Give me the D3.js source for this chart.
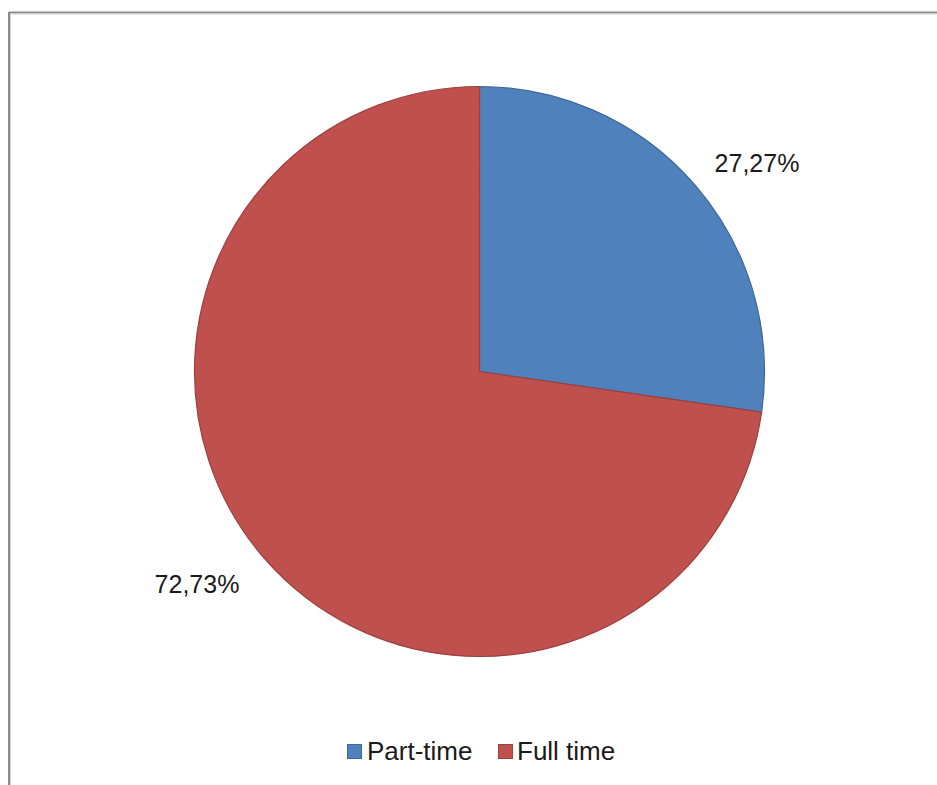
<!DOCTYPE html>
<html>
<head>
<meta charset="utf-8">
<script src="https://cdn.jsdelivr.net/npm/d3@7"></script>
<style>
  html, body { margin: 0; padding: 0; background: #fff; }
  svg { display: block; }
</style>
</head>
<body>
<svg id="chart" width="937" height="785"></svg>
<script>
const categories = ["Part-time", "Full time"];
const values = [3, 8];
const labels = ["27,27%", "72,73%"];
const colors = ["#4F81BD", "#C0504D"];
const strokes = ["#3F6796", "#9A403E"];

const svg = d3.select("#chart");
const W = 937, H = 785;

// frame
svg.append("line").attr("x1", 9).attr("y1", 12.5).attr("x2", W).attr("y2", 12.5)
  .attr("stroke", "#8a8a8a").attr("stroke-width", 2);
svg.append("line").attr("x1", 9).attr("y1", 12).attr("x2", 9).attr("y2", H)
  .attr("stroke", "#8a8a8a").attr("stroke-width", 2);
svg.append("line").attr("x1", 10).attr("y1", 14).attr("x2", W).attr("y2", 14)
  .attr("stroke", "#d4d4d4").attr("stroke-width", 1);
svg.append("line").attr("x1", 10.5).attr("y1", 14).attr("x2", 10.5).attr("y2", H)
  .attr("stroke", "#d4d4d4").attr("stroke-width", 1);

const cx = 479.5, cy = 371.5, r = 285;
const pie = d3.pie().sort(null).value(d => d);
const arcs = pie(values);
const arc = d3.arc().innerRadius(0).outerRadius(r);

const g = svg.append("g").attr("transform", `translate(${cx},${cy})`);
g.selectAll("path").data(arcs).enter().append("path")
  .attr("d", arc)
  .attr("fill", (d, i) => colors[i])
  .attr("stroke", (d, i) => strokes[i])
  .attr("stroke-width", 1.2)
  .attr("stroke-linejoin", "round");

// labels outside
const labelPos = [[757, 172], [197, 593]];
svg.selectAll("text.lbl").data(arcs).enter().append("text")
  .attr("class", "lbl")
  .attr("x", (d, i) => labelPos[i][0])
  .attr("y", (d, i) => labelPos[i][1])
  .attr("text-anchor", "middle")
  .attr("font-family", "Liberation Sans, Arial, sans-serif")
  .attr("font-size", 25)
  .attr("fill", "#1a1a1a")
  .text((d, i) => labels[i]);

// legend
const legendItems = [{x: 347, tx: 367}, {x: 498, tx: 517}];
const lg = svg.append("g");
categories.forEach((c, i) => {
  lg.append("rect").attr("x", legendItems[i].x + 0.5).attr("y", 744.5)
    .attr("width", 14).attr("height", 14)
    .attr("fill", colors[i]).attr("stroke", strokes[i]).attr("stroke-width", 1);
  lg.append("text").attr("x", legendItems[i].tx).attr("y", 760)
    .attr("font-family", "Liberation Sans, Arial, sans-serif")
    .attr("font-size", 26).attr("fill", "#1a1a1a")
    .text(c);
});
</script>
</body>
</html>
